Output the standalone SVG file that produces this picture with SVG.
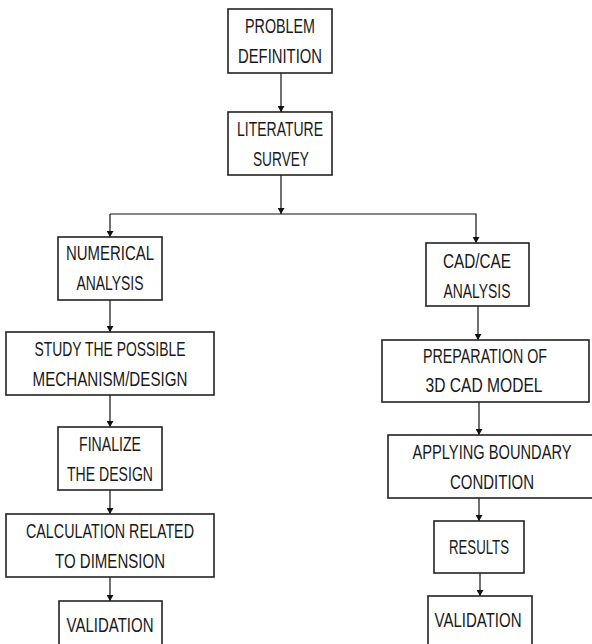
<svg xmlns="http://www.w3.org/2000/svg" width="592" height="644" viewBox="0 0 592 644">
<style>
.box{fill:#fff;stroke:#222;stroke-width:1.6}
.t{font-family:"Liberation Sans",Arial,sans-serif;font-size:21px;fill:#1a1a1a;text-anchor:middle}
.c{fill:none;stroke:#111;stroke-width:1.2}
</style>
<defs>
<marker id="ah" viewBox="0 0 6 7" refX="6" refY="3.5" markerWidth="6" markerHeight="7" markerUnits="userSpaceOnUse" orient="auto">
<path d="M0,0 L6,3.5 L0,7 z" fill="#111"/>
</marker>
</defs>
<rect width="592" height="644" fill="#fff"/>
<g id="connectors">
<line class="c" x1="281" y1="73" x2="281" y2="112" marker-end="url(#ah)"/>
<line class="c" x1="281" y1="175" x2="281" y2="214" marker-end="url(#ah)"/>
<polyline class="c" points="110,214 476,214 476,243" marker-end="url(#ah)"/>
<line class="c" x1="110" y1="214" x2="110" y2="237" marker-end="url(#ah)"/>
<line class="c" x1="110" y1="300" x2="110" y2="332" marker-end="url(#ah)"/>
<line class="c" x1="110" y1="395" x2="110" y2="427" marker-end="url(#ah)"/>
<line class="c" x1="110" y1="490" x2="110" y2="514" marker-end="url(#ah)"/>
<line class="c" x1="110" y1="577" x2="110" y2="601" marker-end="url(#ah)"/>
<line class="c" x1="478" y1="306" x2="478" y2="340" marker-end="url(#ah)"/>
<line class="c" x1="479" y1="402" x2="479" y2="435" marker-end="url(#ah)"/>
<line class="c" x1="479" y1="498" x2="479" y2="521" marker-end="url(#ah)"/>
<line class="c" x1="480" y1="573" x2="480" y2="596" marker-end="url(#ah)"/>
</g>
<g id="problem"><rect class="box" x="228" y="9" width="104" height="64"/>
<text class="t" x="280" y="33" textLength="70" lengthAdjust="spacingAndGlyphs">PROBLEM</text>
<text class="t" x="280" y="63" textLength="84" lengthAdjust="spacingAndGlyphs">DEFINITION</text></g>
<g id="literature"><rect class="box" x="228" y="112" width="104" height="63"/>
<text class="t" x="280" y="136" textLength="86" lengthAdjust="spacingAndGlyphs">LITERATURE</text>
<text class="t" x="281" y="166" textLength="56" lengthAdjust="spacingAndGlyphs">SURVEY</text></g>
<g id="numerical"><rect class="box" x="58" y="237" width="104" height="63"/>
<text class="t" x="110" y="260" textLength="88" lengthAdjust="spacingAndGlyphs">NUMERICAL</text>
<text class="t" x="110" y="290" textLength="67" lengthAdjust="spacingAndGlyphs">ANALYSIS</text></g>
<g id="study"><rect class="box" x="6" y="332" width="208" height="63"/>
<text class="t" x="110" y="356" textLength="151" lengthAdjust="spacingAndGlyphs">STUDY THE POSSIBLE</text>
<text class="t" x="110" y="386" textLength="155" lengthAdjust="spacingAndGlyphs">MECHANISM/DESIGN</text></g>
<g id="finalize"><rect class="box" x="58" y="427" width="104" height="63"/>
<text class="t" x="110" y="451" textLength="62" lengthAdjust="spacingAndGlyphs">FINALIZE</text>
<text class="t" x="110" y="481" textLength="86" lengthAdjust="spacingAndGlyphs">THE DESIGN</text></g>
<g id="calculation"><rect class="box" x="6" y="514" width="208" height="63"/>
<text class="t" x="110" y="538" textLength="168" lengthAdjust="spacingAndGlyphs">CALCULATION RELATED</text>
<text class="t" x="110" y="568" textLength="110" lengthAdjust="spacingAndGlyphs">TO DIMENSION</text></g>
<g id="validation-left"><rect class="box" x="59" y="601" width="103" height="60"/>
<text class="t" x="110" y="632" textLength="87" lengthAdjust="spacingAndGlyphs">VALIDATION</text></g>
<g id="cadcae"><rect class="box" x="426" y="243" width="103" height="63"/>
<text class="t" x="477" y="268" textLength="68" lengthAdjust="spacingAndGlyphs">CAD/CAE</text>
<text class="t" x="477" y="298" textLength="67" lengthAdjust="spacingAndGlyphs">ANALYSIS</text></g>
<g id="preparation"><rect class="box" x="382" y="340" width="207" height="62"/>
<text class="t" x="485" y="363" textLength="124" lengthAdjust="spacingAndGlyphs">PREPARATION OF</text>
<text class="t" x="484" y="392" textLength="117" lengthAdjust="spacingAndGlyphs">3D CAD MODEL</text></g>
<g id="applying"><rect class="box" x="388" y="435" width="212" height="63"/>
<text class="t" x="492" y="459" textLength="159" lengthAdjust="spacingAndGlyphs">APPLYING BOUNDARY</text>
<text class="t" x="492" y="489" textLength="84" lengthAdjust="spacingAndGlyphs">CONDITION</text></g>
<g id="results"><rect class="box" x="434" y="521" width="90" height="52"/>
<text class="t" x="479" y="554" textLength="60" lengthAdjust="spacingAndGlyphs">RESULTS</text></g>
<g id="validation-right"><rect class="box" x="428" y="596" width="104" height="60"/>
<text class="t" x="478" y="627" textLength="87" lengthAdjust="spacingAndGlyphs">VALIDATION</text></g>
</svg>
